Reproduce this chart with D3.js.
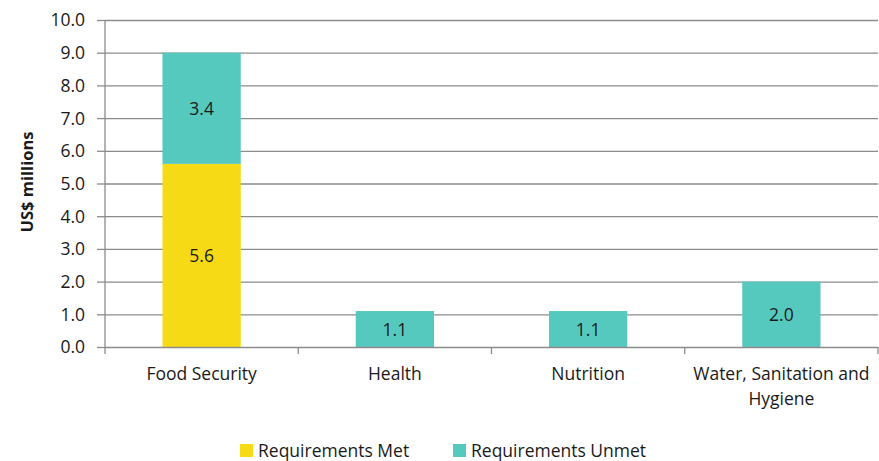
<!DOCTYPE html>
<html><head><meta charset="utf-8">
<script src="https://cdn.jsdelivr.net/npm/d3@7"></script>
<style>body{margin:0;background:#fff;} text{font-family:"Open Sans",sans-serif;fill:#1a1a1a;}</style>
</head><body><svg id="c" width="879" height="461"></svg>
<script>
const categories = ["Food Security","Health","Nutrition","Water, Sanitation and Hygiene"];
const met = [5.6, 0, 0, 0];
const unmet = [3.4, 1.1, 1.1, 2.0];
const seriesNames = ["Requirements Met","Requirements Unmet"];
const colors = ["#F7DA16","#56C9BF"];
const yTicks = [0,1,2,3,4,5,6,7,8,9,10];
const FONT = "'Open Sans',sans-serif";
const FS = 17.5;

const svg = d3.select("#c");
const m = {l:105, r:878, t:20, b:347};
const x = d3.scaleBand().domain(categories).range([m.l, m.r]).paddingInner(0).paddingOuter(0);
const y = d3.scaleLinear().domain([0,10]).range([m.b, m.t]);

// gridlines
svg.append("g").selectAll("line").data(yTicks.filter(d=>d>0)).join("line")
  .attr("x1", m.l).attr("x2", m.r).attr("y1", d=>y(d)+0.5).attr("y2", d=>y(d)+0.5)
  .attr("stroke","#8c8c8c").attr("stroke-width",1.3);

// bars
const data = categories.map((c,i)=>({c, met:met[i], unmet:unmet[i]}));
const stack = d3.stack().keys(["met","unmet"])(data);
const bw = x.bandwidth()*0.405;
stack.forEach((s,si)=>{
  const g = svg.append("g");
  s.forEach(d=>{
    const v = d[1]-d[0];
    if (v<=0) return;
    const cx = x(d.data.c)+x.bandwidth()/2;
    g.append("rect").attr("x", cx-bw/2).attr("width", bw)
      .attr("y", y(d[1])).attr("height", y(d[0])-y(d[1])).attr("fill", colors[si]);
    g.append("text").attr("x", cx).attr("y", (y(d[0])+y(d[1]))/2+6.5)
      .attr("text-anchor","middle").attr("font-size",FS).text(v.toFixed(1));
  });
});

// y axis
const ya = svg.append("g").attr("transform",`translate(${m.l},0)`)
  .call(d3.axisLeft(y).tickValues(yTicks).tickFormat(d=>d.toFixed(1)).tickSize(8).tickPadding(12));
ya.select(".domain").attr("stroke","#8c8c8c").attr("stroke-width",1.3).attr("d",`M0,${m.t}V${m.b}`);
ya.selectAll(".tick line").attr("stroke","#8c8c8c").attr("stroke-width",1.3);
ya.selectAll(".tick text").attr("font-size",FS).attr("font-family",FONT).attr("fill","#1a1a1a").attr("dy","0.34em");

// x axis
const xa = svg.append("g").attr("transform",`translate(0,${m.b})`);
xa.append("line").attr("x1",m.l).attr("x2",m.r).attr("y1",0.5).attr("y2",0.5).attr("stroke","#8c8c8c").attr("stroke-width",1.3);
const bounds = categories.map(c=>x(c)).concat([m.r]);
xa.selectAll("line.t").data(bounds).join("line").attr("class","t")
  .attr("x1",d=>d).attr("x2",d=>d).attr("y1",0).attr("y2",7).attr("stroke","#8c8c8c").attr("stroke-width",1.3);
const lines = {"Water, Sanitation and Hygiene":["Water, Sanitation and","Hygiene"]};
categories.forEach(c=>{
  const t = xa.append("text").attr("text-anchor","middle").attr("font-size",FS)
    .attr("x", x(c)+x.bandwidth()/2);
  (lines[c]||[c]).forEach((l,i)=>t.append("tspan").attr("x", x(c)+x.bandwidth()/2).attr("y", 33+i*25).text(l));
});

// y label
svg.append("text").attr("transform","translate(33,182) rotate(-90)").attr("text-anchor","middle")
  .attr("font-size",16.5).attr("font-weight","bold").text("US$ millions");

// legend
const lg = svg.append("g");
const lx = [240, 453];
seriesNames.forEach((n,i)=>{
  lg.append("rect").attr("x",lx[i]).attr("y",444).attr("width",13).attr("height",13).attr("fill",colors[i]);
  lg.append("text").attr("x",lx[i]+18).attr("y",457).attr("font-size",FS).text(n);
});
</script></body></html>
